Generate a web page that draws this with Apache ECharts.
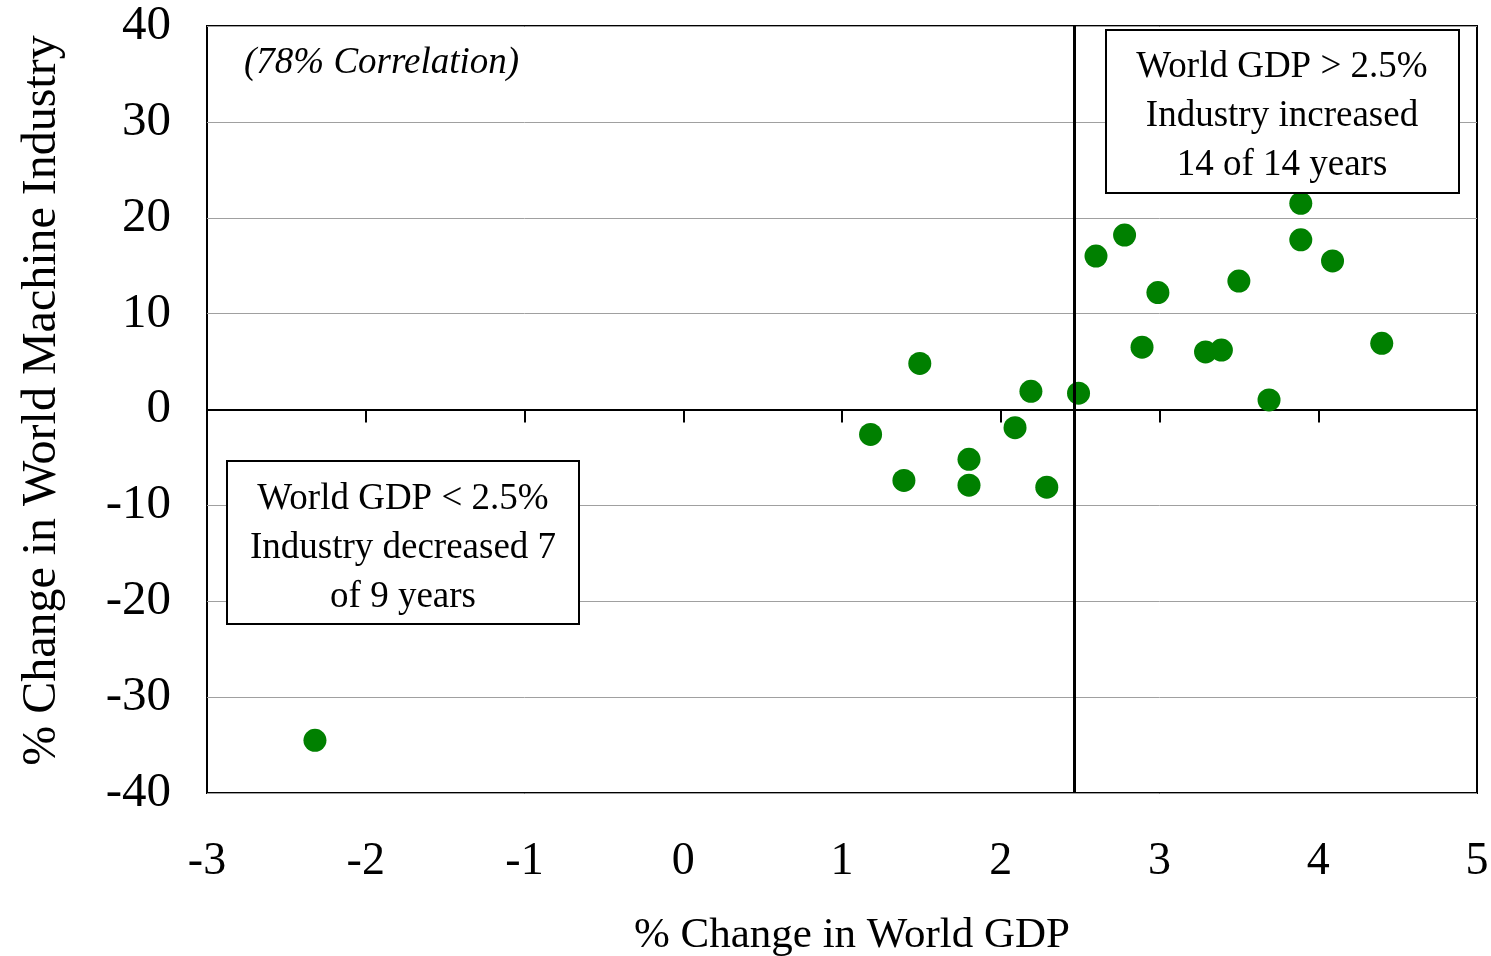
<!DOCTYPE html>
<html>
<head>
<meta charset="utf-8">
<script src="https://cdn.jsdelivr.net/npm/echarts@6/dist/echarts.min.js"></script>
<style>
html, body { margin: 0; padding: 0; background: #fff; }
#main { width: 1491px; height: 956px; }
</style>
</head>
<body>
<div id="main"></div>
<script>
// % change in world GDP (x) and world machine industry (y), one point per year
var gdpChange = [-2.32, 1.18, 1.39, 1.49, 1.80, 1.80, 2.09, 2.19, 2.29,
                 2.49, 2.60, 2.78, 2.89, 2.99, 3.29, 3.39, 3.50, 3.69, 3.89, 3.89, 4.09, 4.40];
var machineChange = [-34.5, -2.6, -7.4, 4.8, -5.2, -7.9, -1.9, 1.9, -8.1,
                     1.7, 16.0, 18.2, 6.5, 12.2, 6.0, 6.2, 13.4, 1.0, 21.5, 17.7, 15.5, 6.9];
var thresholdGdp = [2.465];
var xTicks = [-3, 5, 1];   // min, max, interval
var yTicks = [-40, 40, 10];
var noteLow = ['World GDP < 2.5%', 'Industry decreased 7', 'of 9 years'];
var noteHigh = ['World GDP > 2.5%', 'Industry increased', '14 of 14 years'];
var corrNote = '(78% Correlation)';

var pts = [];
for (var i = 0; i < gdpChange.length; i++) {
    pts.push([gdpChange[i], machineChange[i]]);
}

var font = 'Liberation Serif, Times New Roman, serif';

var chart = echarts.init(document.getElementById('main'));
var option = {
    backgroundColor: '#fff',
    animation: false,
    grid: {
        left: 207, right: 14, top: 26, bottom: 163,
        outerBoundsMode: 'none',
        containLabel: false,
        show: true,
        borderColor: '#000',
        borderWidth: 2,
        backgroundColor: 'transparent'
    },
    xAxis: [
        {   // zero line with the little ticks
            type: 'value',
            min: xTicks[0], max: xTicks[1], interval: xTicks[2],
            axisLine: { show: true, onZero: true, lineStyle: { color: '#000', width: 2 } },
            axisTick: { show: true, length: 13, lineStyle: { color: '#000', width: 2 } },
            axisLabel: { show: false },
            splitLine: { show: false }
        },
        {   // labels at the bottom
            type: 'value',
            position: 'bottom',
            min: xTicks[0], max: xTicks[1], interval: xTicks[2],
            axisLine: { show: false, onZero: false },
            axisTick: { show: false },
            axisLabel: { show: true, margin: 46, fontFamily: font, fontSize: 46, color: '#000' },
            splitLine: { show: false },
            name: '% Change in World GDP',
            nameLocation: 'middle',
            nameGap: 121,
            nameTextStyle: { fontFamily: font, fontSize: 43, color: '#000', padding: [0, 0, 0, 20] }
        }
    ],
    yAxis: {
        type: 'value',
        min: yTicks[0], max: yTicks[1], interval: yTicks[2],
        axisLine: { show: false },
        axisTick: { show: false },
        axisLabel: { margin: 36, fontFamily: font, fontSize: 49, color: '#000' },
        splitLine: { show: true, lineStyle: { color: '#a0a0a0', width: 1 } },
        name: '% Change in World Machine Industry',
        nameLocation: 'middle',
        nameGap: 141,
        nameTextStyle: { fontFamily: font, fontSize: 48, color: '#000', padding: [0, 0, 0, 18] }
    },
    series: [{
        type: 'scatter',
        xAxisIndex: 0,
        symbol: 'circle',
        symbolSize: 23,
        itemStyle: { color: '#008000', opacity: 1 },
        data: pts,
        markLine: {
            silent: true,
            symbol: ['none', 'none'],
            label: { show: false },
            lineStyle: { color: '#000', width: 3, type: 'solid' },
            data: [{ xAxis: thresholdGdp[0] }]
        },
        z: 3
    }],
    graphic: [
        {
            type: 'text',
            left: 244, top: 45, z: 100,
            style: { text: corrNote, font: 'italic 37px ' + font, fill: '#000' }
        },
        {
            type: 'group',
            left: 1105, top: 29, z: 100,
            children: [
                { type: 'rect', z: 100, shape: { x: 0, y: 0, width: 353, height: 163 },
                  style: { fill: '#fff', stroke: '#000', lineWidth: 2 } },
                { type: 'text', z: 101, x: 176, y: 86,
                  style: { text: noteHigh.join('\n'), font: '37px ' + font, fill: '#000',
                           align: 'center', verticalAlign: 'middle', lineHeight: 49 } }
            ]
        },
        {
            type: 'group',
            left: 226, top: 460, z: 100,
            children: [
                { type: 'rect', z: 100, shape: { x: 0, y: 0, width: 352, height: 163 },
                  style: { fill: '#fff', stroke: '#000', lineWidth: 2 } },
                { type: 'text', z: 101, x: 176, y: 87,
                  style: { text: noteLow.join('\n'), font: '37px ' + font, fill: '#000',
                           align: 'center', verticalAlign: 'middle', lineHeight: 49 } }
            ]
        }
    ]
};
chart.setOption(option);
</script>
</body>
</html>
